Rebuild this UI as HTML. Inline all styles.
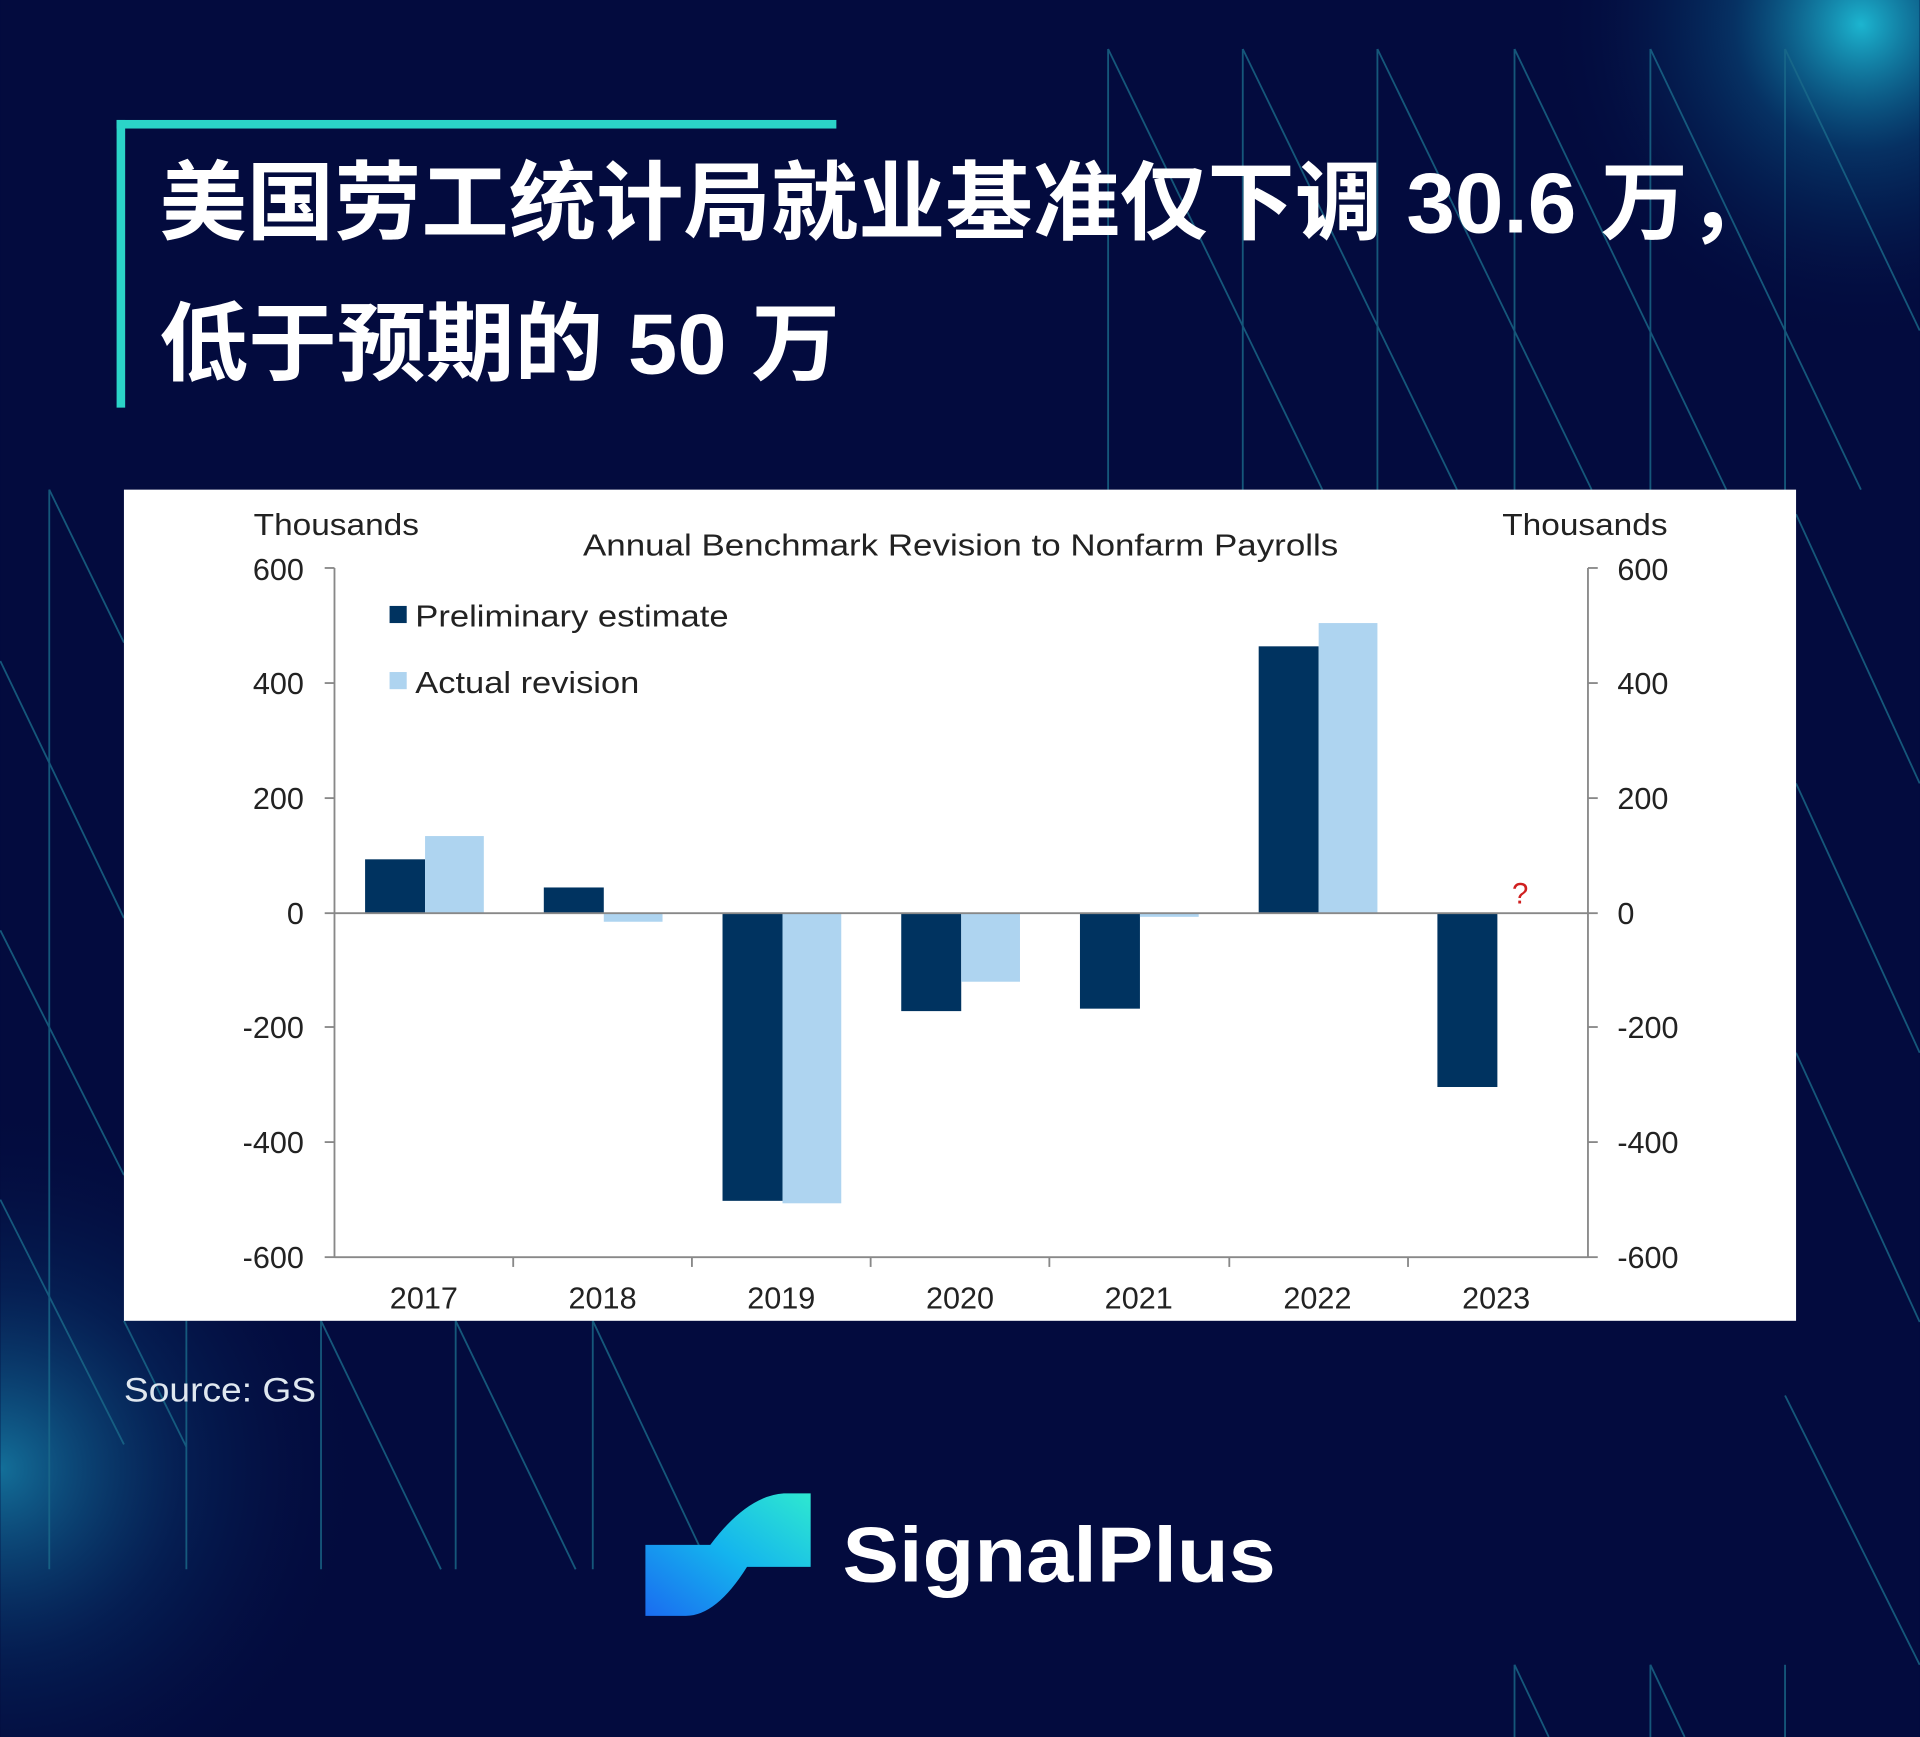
<!DOCTYPE html>
<html><head><meta charset="utf-8"><style>
html,body{margin:0;padding:0;background:#030b3e;}
svg{display:block}
</style></head><body>
<svg width="1920" height="1737" viewBox="0 0 1568 1419" xmlns="http://www.w3.org/2000/svg">
<defs>
<radialGradient id="g1" cx="1520" cy="20" r="260" gradientUnits="userSpaceOnUse">
<stop offset="0" stop-color="#1fc8e0" stop-opacity="0.9"/><stop offset="0.4" stop-color="#0a6a9a" stop-opacity="0.4"/><stop offset="1" stop-color="#030b3e" stop-opacity="0"/></radialGradient>
<radialGradient id="g2" cx="0" cy="1200" r="300" gradientUnits="userSpaceOnUse">
<stop offset="0" stop-color="#1a9ac0" stop-opacity="0.7"/><stop offset="0.5" stop-color="#0a4a80" stop-opacity="0.3"/><stop offset="1" stop-color="#030b3e" stop-opacity="0"/></radialGradient>
<linearGradient id="lg" x1="0" y1="1" x2="1" y2="0">
<stop offset="0" stop-color="#1a6cf0"/><stop offset="0.5" stop-color="#14b4ee"/><stop offset="1" stop-color="#2ee8d0"/></linearGradient>
</defs>
<rect width="1568" height="1419" fill="#030b3e"/>
<rect width="1568" height="1419" fill="url(#g1)"/>
<rect width="1568" height="1419" fill="url(#g2)"/>
<g stroke="#1a6a8a" stroke-width="1.5" opacity="0.8" fill="none">
<line x1="905" y1="40" x2="905" y2="400"/><line x1="1015" y1="40" x2="1015" y2="400"/><line x1="1125" y1="40" x2="1125" y2="400"/><line x1="1237" y1="40" x2="1237" y2="400"/><line x1="1348" y1="40" x2="1348" y2="400"/><line x1="1458" y1="40" x2="1458" y2="400"/>
<line x1="905" y1="40" x2="1080" y2="400"/><line x1="1015" y1="40" x2="1190" y2="400"/><line x1="1125" y1="40" x2="1300" y2="400"/><line x1="1237" y1="40" x2="1410" y2="400"/><line x1="1348" y1="40" x2="1520" y2="400"/><line x1="1458" y1="40" x2="1568" y2="270"/>
<line x1="40" y1="400" x2="40" y2="1282"/><line x1="40" y1="400" x2="101" y2="525"/><line x1="0" y1="540" x2="101" y2="750"/><line x1="0" y1="760" x2="101" y2="960"/>
<line x1="0" y1="980" x2="101" y2="1180"/>
<line x1="152" y1="1079" x2="152" y2="1282"/><line x1="262" y1="1079" x2="262" y2="1282"/><line x1="372" y1="1079" x2="372" y2="1282"/><line x1="484" y1="1079" x2="484" y2="1282"/>
<line x1="101" y1="1079" x2="152" y2="1182"/><line x1="262" y1="1079" x2="360" y2="1282"/><line x1="372" y1="1079" x2="470" y2="1282"/><line x1="484" y1="1079" x2="580" y2="1282"/>
<line x1="1467" y1="420" x2="1568" y2="640"/><line x1="1467" y1="640" x2="1568" y2="860"/><line x1="1467" y1="860" x2="1568" y2="1080"/><line x1="1458" y1="1140" x2="1568" y2="1360"/>
<line x1="1237" y1="1360" x2="1237" y2="1419"/><line x1="1348" y1="1360" x2="1348" y2="1419"/><line x1="1458" y1="1360" x2="1458" y2="1419"/>
<line x1="1237" y1="1360" x2="1265" y2="1419"/><line x1="1348" y1="1360" x2="1376" y2="1419"/>
</g>
<rect x="95" y="98" width="588" height="7" fill="#2bd4c8"/>
<rect x="95" y="98" width="7" height="235" fill="#2bd4c8"/>
<g fill="#fff" font-family="'Liberation Sans','Noto Sans CJK SC',sans-serif" font-weight="bold" font-size="70">
<text x="130" y="190" textLength="1320" lengthAdjust="spacingAndGlyphs">美国劳工统计局就业基准仅下调 30.6 万，</text>
<text x="130" y="305" textLength="556" lengthAdjust="spacingAndGlyphs">低于预期的 50 万</text>
</g>
<rect x="101" y="400" width="1366" height="679" fill="#fff"/>
<g font-family="'Liberation Sans',sans-serif" font-size="25" fill="#222">
<text x="207" y="437" textLength="135" lengthAdjust="spacingAndGlyphs">Thousands</text>
<text x="1227" y="437" textLength="135" lengthAdjust="spacingAndGlyphs">Thousands</text>
<text x="476" y="454" textLength="617" lengthAdjust="spacingAndGlyphs">Annual Benchmark Revision to Nonfarm Payrolls</text>
<g text-anchor="end">
<text x="248" y="474">600</text><text x="248" y="567">400</text><text x="248" y="661">200</text><text x="248" y="755">0</text><text x="248" y="848">-200</text><text x="248" y="942">-400</text><text x="248" y="1036">-600</text>
</g>
<text x="1321" y="474">600</text><text x="1321" y="567">400</text><text x="1321" y="661">200</text><text x="1321" y="755">0</text><text x="1321" y="848">-200</text><text x="1321" y="942">-400</text><text x="1321" y="1036">-600</text>
<g text-anchor="middle">
<text x="346" y="1069">2017</text><text x="492" y="1069">2018</text><text x="638" y="1069">2019</text><text x="784" y="1069">2020</text><text x="930" y="1069">2021</text><text x="1076" y="1069">2022</text><text x="1222" y="1069">2023</text>
</g>
<text x="339" y="512" textLength="256" lengthAdjust="spacingAndGlyphs">Preliminary estimate</text>
<text x="339" y="566" textLength="183" lengthAdjust="spacingAndGlyphs">Actual revision</text>
<text x="1235" y="738" fill="#d02020" font-size="24">?</text>
</g>
<rect x="318" y="495" width="14" height="14" fill="#003360"/>
<rect x="318" y="549" width="14" height="14" fill="#aed4f0"/>
<g fill="#003360">
<rect x="298" y="702" width="49" height="44"/>
<rect x="444" y="725" width="49" height="21"/>
<rect x="590" y="746" width="49" height="235"/>
<rect x="736" y="746" width="49" height="80"/>
<rect x="882" y="746" width="49" height="78"/>
<rect x="1028" y="528" width="49" height="218"/>
<rect x="1174" y="746" width="49" height="142"/>
</g>
<g fill="#aed4f0">
<rect x="347" y="683" width="48" height="63"/>
<rect x="493" y="746" width="48" height="7"/>
<rect x="639" y="746" width="48" height="237"/>
<rect x="785" y="746" width="48" height="56"/>
<rect x="931" y="746" width="48" height="3"/>
<rect x="1077" y="509" width="48" height="237"/>
</g>
<g stroke="#888" stroke-width="1.5" fill="none">
<line x1="273" y1="464" x2="273" y2="1027"/><line x1="1297" y1="464" x2="1297" y2="1027"/>
<line x1="273" y1="1027" x2="1297" y2="1027"/><line x1="273" y1="746" x2="1297" y2="746"/>
<line x1="265" y1="464" x2="273" y2="464"/><line x1="265" y1="558" x2="273" y2="558"/><line x1="265" y1="652" x2="273" y2="652"/><line x1="265" y1="746" x2="273" y2="746"/><line x1="265" y1="839" x2="273" y2="839"/><line x1="265" y1="933" x2="273" y2="933"/><line x1="265" y1="1027" x2="273" y2="1027"/>
<line x1="1297" y1="464" x2="1305" y2="464"/><line x1="1297" y1="558" x2="1305" y2="558"/><line x1="1297" y1="652" x2="1305" y2="652"/><line x1="1297" y1="746" x2="1305" y2="746"/><line x1="1297" y1="839" x2="1305" y2="839"/><line x1="1297" y1="933" x2="1305" y2="933"/><line x1="1297" y1="1027" x2="1305" y2="1027"/>
<line x1="419" y1="1027" x2="419" y2="1035"/><line x1="565" y1="1027" x2="565" y2="1035"/><line x1="711" y1="1027" x2="711" y2="1035"/><line x1="857" y1="1027" x2="857" y2="1035"/><line x1="1004" y1="1027" x2="1004" y2="1035"/><line x1="1150" y1="1027" x2="1150" y2="1035"/>
</g>
<text x="101" y="1145" font-family="'Liberation Sans',sans-serif" font-size="28" fill="#e0e8f0" textLength="157" lengthAdjust="spacingAndGlyphs">Source: GS</text>
<path d="M527 1262 L580 1262 Q610 1222 640 1220 L662 1220 L662 1280 L610 1280 Q585 1320 560 1320 L527 1320 Z" fill="url(#lg)"/>
<text x="688" y="1292" font-family="'Liberation Sans',sans-serif" font-weight="bold" font-size="64" fill="#fff" textLength="354" lengthAdjust="spacingAndGlyphs">SignalPlus</text>
</svg>
</body></html>
